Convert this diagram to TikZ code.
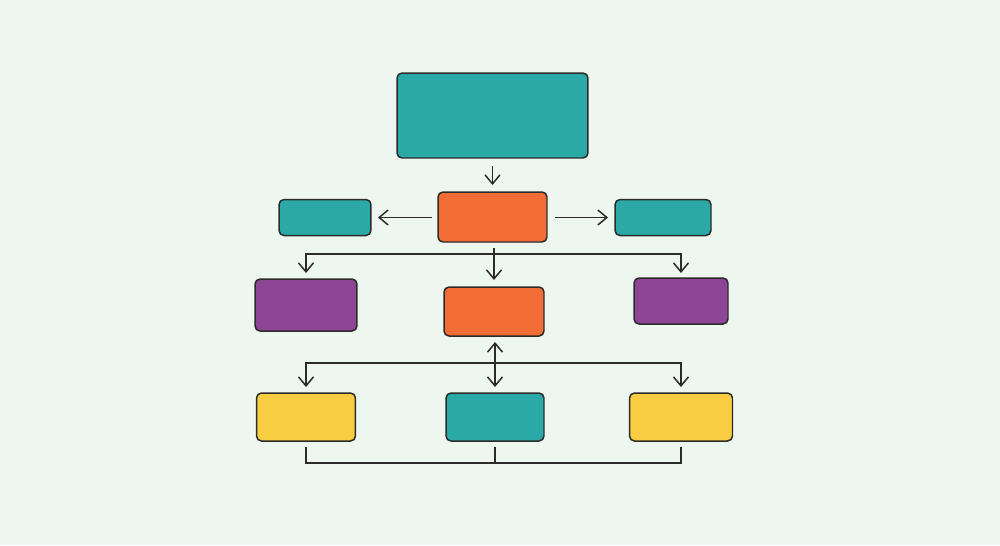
\documentclass[tikz,border=0pt]{standalone}
\usepackage{tikz}
\usetikzlibrary{arrows.meta}

\definecolor{bgmint}{HTML}{EEF7EF}
\definecolor{tealbox}{HTML}{2AA9A7}
\definecolor{orangebox}{HTML}{F26C35}
\definecolor{purplebox}{HTML}{8D4596}
\definecolor{yellowbox}{HTML}{F9CD42}
\definecolor{inkline}{HTML}{2B2B2B}

\begin{document}
\begin{tikzpicture}[
    x=0.02cm, y=-0.02cm,
    block/.style={rectangle, draw=inkline, line width=0.85pt, rounded corners=0.1cm, inner sep=0pt, outer sep=0pt},
    teal/.style={block, fill=tealbox},
    orange/.style={block, fill=orangebox},
    purple/.style={block, fill=purplebox},
    yellow/.style={block, fill=yellowbox},
    arrow/.style={-{Straight Barb[length=0.18cm, width=0.3cm]}, line width=0.85pt, color=inkline},
    link/.style={line width=0.85pt, color=inkline}
]

% Background
\fill[bgmint] (0,0) rectangle (1000,545);
\useasboundingbox (0,0) rectangle (1000,545);

% Top block
\node[teal, minimum width=3.82cm, minimum height=1.7cm] (top) at (492.5,115.5) {};

% Second row
\node[orange, minimum width=2.18cm, minimum height=1.0cm] (mid1) at (492.5,217) {};
\node[teal, minimum width=1.84cm, minimum height=0.72cm] (sideL) at (325,217.5) {};
\node[teal, minimum width=1.92cm, minimum height=0.72cm] (sideR) at (663,217.5) {};
\draw[arrow, shorten <=0.16cm, shorten >=0.14cm] (top) -- (mid1);
\draw[arrow, shorten <=0.12cm, shorten >=0.14cm] (mid1.west |- sideL.east) -- (sideL.east);
\draw[arrow, shorten <=0.16cm, shorten >=0.14cm] (mid1.east |- sideR.west) -- (sideR.west);

% Third row
\node[purple, minimum width=2.04cm, minimum height=1.04cm] (purL) at (306,305) {};
\node[orange, minimum width=2.0cm, minimum height=0.98cm] (mid2) at (494,311.5) {};
\node[purple, minimum width=1.88cm, minimum height=0.92cm] (purR) at (681,301) {};
\coordinate (busA) at (494,254);
\draw[arrow, shorten <=0.12cm, shorten >=0.14cm] (mid1.south -| mid2.north) -- (mid2.north);
\draw[arrow, shorten >=0.12cm] (busA) -| (purL.north);
\draw[arrow, shorten >=0.1cm] (busA) -| (purR.north);

% Bottom row
\node[yellow, minimum width=1.98cm, minimum height=0.96cm] (yelL) at (306,417) {};
\node[teal, minimum width=1.96cm, minimum height=0.96cm] (bot) at (495,417) {};
\node[yellow, minimum width=2.06cm, minimum height=0.96cm] (yelR) at (681,417) {};
\coordinate (busB) at (495,363);
\draw[arrow, {Straight Barb[length=0.18cm, width=0.3cm]}-{Straight Barb[length=0.18cm, width=0.3cm]}, shorten <=0.12cm, shorten >=0.12cm] (mid2.south -| bot.north) -- (bot.north);
\draw[arrow, shorten >=0.12cm] (busB) -| (yelL.north);
\draw[arrow, shorten >=0.12cm] (busB) -| (yelR.north);

% Bottom bracket
\coordinate (busC) at (495,463);
\draw[link, shorten <=0.12cm] (yelL.south) |- (busC);
\draw[link, shorten <=0.12cm] (yelR.south) |- (busC);
\draw[link, shorten <=0.12cm] (bot.south) -- (busC);

\end{tikzpicture}
\end{document}
